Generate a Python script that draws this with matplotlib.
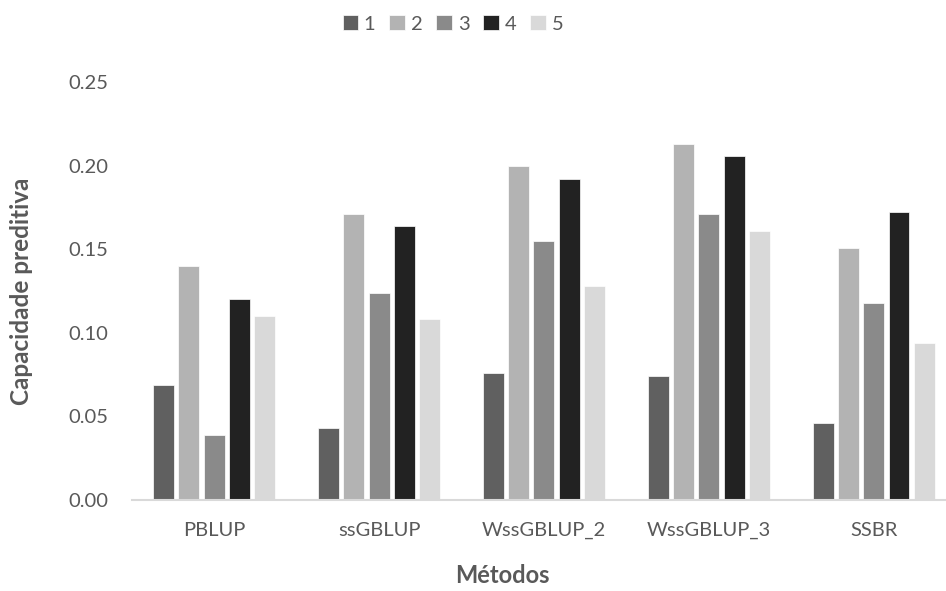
import numpy as np
import matplotlib
matplotlib.use("Agg")
import matplotlib.pyplot as plt

# dados
metodos = ["PBLUP", "ssGBLUP", "WssGBLUP_2", "WssGBLUP_3", "SSBR"]
series = ["1", "2", "3", "4", "5"]
s1 = [0.069, 0.043, 0.076, 0.074, 0.046]
s2 = [0.140, 0.171, 0.200, 0.213, 0.151]
s3 = [0.039, 0.124, 0.155, 0.171, 0.118]
s4 = [0.120, 0.164, 0.192, 0.206, 0.172]
s5 = [0.110, 0.108, 0.128, 0.161, 0.094]
cores = ["#606060", "#b3b3b3", "#8a8a8a", "#222222", "#d9d9d9"]

plt.rcParams['font.family'] = ['Lato', 'DejaVu Sans']
txt = "#595959"

fig = plt.figure(figsize=(9.46, 5.91), dpi=100)
ax = fig.add_axes([0.1392, 0.154, 0.8716, 0.7073])

x = np.arange(len(metodos))
passo = 0.153
for i, (vals, nome) in enumerate(zip([s1, s2, s3, s4, s5], series)):
    ax.bar(x + (i - 2) * passo, vals, 0.127, color=cores[i], edgecolor="white",
           linewidth=0.5, label=nome)

ax.set_xlim(-0.5, len(metodos) - 0.5)
ax.set_ylim(0, 0.25)
ax.set_yticks(np.arange(0, 0.26, 0.05))
ax.set_yticklabels([f"{v:.2f}" for v in np.arange(0, 0.26, 0.05)])
ax.set_xticks(x)
ax.set_xticklabels(metodos)
ax.tick_params(axis="both", length=0, labelsize=14.5, colors=txt)
ax.tick_params(axis="y", pad=17)
ax.tick_params(axis="x", pad=16)

for s in ["top", "right", "left"]:
    ax.spines[s].set_visible(False)
ax.spines["bottom"].set_color("#d9d9d9")
ax.spines["bottom"].set_linewidth(1.5)

ax.set_ylabel("Capacidade preditiva", fontsize=17.5, fontweight="bold",
              color=txt, va="center", ha="center")
ax.yaxis.set_label_coords((22 - 131.7) / 824.5, 0.5)
ax.set_xlabel("Métodos", fontsize=17, fontweight="bold", color=txt,
              va="center", ha="center")
ax.xaxis.set_label_coords(0.45, (500 - 576) / 418)

fig.legend(loc="center", bbox_to_anchor=(453 / 946, 1 - 24 / 591), ncol=5,
           frameon=False, fontsize=14.5, handlelength=0.75, handleheight=0.75,
           handletextpad=0.3, columnspacing=0.7, labelcolor=txt)

fig.savefig("out.png", dpi=100)
